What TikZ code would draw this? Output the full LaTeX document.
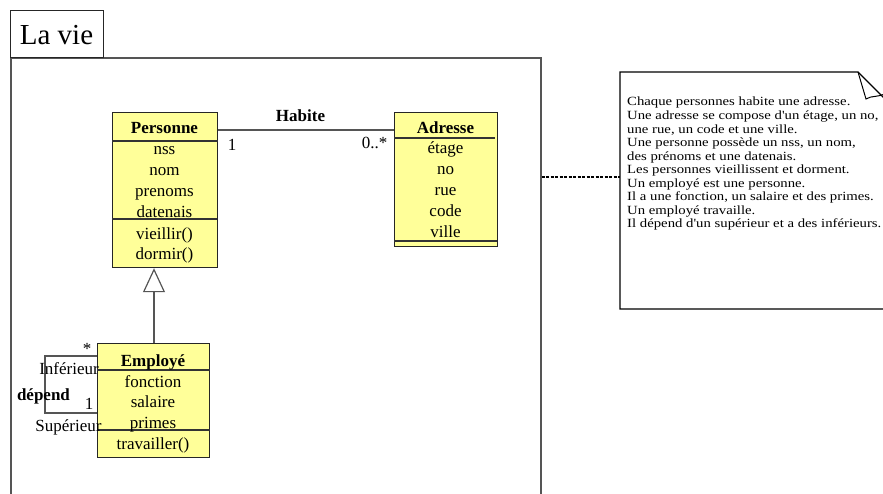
\documentclass[tikz,border=0pt]{standalone}
\usepackage{fontspec}
\setmainfont{Liberation Serif}
\newfontfamily\notefont[FakeStretch=1.18]{Liberation Serif}
\usetikzlibrary{arrows.meta}
\definecolor{umlyellow}{RGB}{255,255,153}
\definecolor{framegray}{RGB}{85,85,85}
\newcommand\clsfont{\fontsize{17}{20.7}\selectfont}
\begin{document}
\begin{tikzpicture}[x=1pt,y=-1pt,
  framebox/.style={draw=framegray, line width=1.6pt, inner sep=0pt},
  classbox/.style={draw=black!85, fill=umlyellow, line width=1.2pt, inner sep=0pt},
  sepline/.style={draw=black!80, line width=1.1pt},
  member/.style={font=\clsfont, inner sep=0pt, anchor=base},
  clsname/.style={font=\clsfont\bfseries, inner sep=0pt, anchor=base},
  assoc/.style={draw=framegray, line width=1.2pt},
  rolelabel/.style={font=\clsfont, inner sep=0pt, anchor=base},
]
\useasboundingbox (0,0) rectangle (883,494);
\clip (0,0) rectangle (883,494);

% package frame and its tab
\node[framebox, anchor=north west, minimum width=530pt, minimum height=500pt] (frame) at (10,57) {};
\node[draw=black!85, line width=1.1pt, anchor=north west, minimum width=93pt, minimum height=47pt, inner sep=0pt] (tab) at (10,10) {};
\node[font=\fontsize{29}{30}\selectfont, anchor=base, inner sep=0pt] (tabtext) at (56.5,45) {La vie};

% class Personne
\node[classbox, anchor=north west, minimum width=105pt, minimum height=155pt] (personne) at (112,112) {};
\draw[sepline] (112,141) -- (218,141);
\draw[sepline] (112,219) -- (217,219);
\node[clsname] (pname) at (164.5,133.5) {Personne};
\node[member] (pa1) at (164.5,155) {nss};
\node[member] (pa2) at (164.5,175.7) {nom};
\node[member] (pa3) at (164.5,196.4) {prenoms};
\node[member] (pa4) at (164.5,217.1) {datenais};
\node[member] (po1) at (164.5,239.5) {vieillir()};
\node[member] (po2) at (164.5,260) {dormir()};

% class Adresse
\node[classbox, anchor=north west, minimum width=103pt, minimum height=134pt] (adresse) at (394,112) {};
\draw[sepline] (394,138) -- (495,138);
\draw[sepline] (394,241) -- (497,241);
\node[clsname] (aname) at (445.5,133.3) {Adresse};
\node[member] (aa1) at (445.5,154) {étage};
\node[member] (aa2) at (445.5,175) {no};
\node[member] (aa3) at (445.5,195.7) {rue};
\node[member] (aa4) at (445.5,216.5) {code};
\node[member] (aa5) at (445.5,237.3) {ville};

% class Employé
\node[classbox, anchor=north west, minimum width=112pt, minimum height=114pt] (employe) at (97,343) {};
\draw[sepline] (97,370) -- (210,370);
\draw[sepline] (97,430) -- (210,430);
\node[clsname] (ename) at (153,366) {Employé};
\node[member] (ea1) at (153,387) {fonction};
\node[member] (ea2) at (153,407.4) {salaire};
\node[member] (ea3) at (153,428) {primes};
\node[member] (eo1) at (153,449) {travailler()};

% association Habite
\coordinate (habY) at (300,130);
\draw[assoc] (personne.east |- habY) -- (adresse.west |- habY);
\node[font=\clsfont\bfseries, inner sep=0pt, anchor=base] (habite) at (300.5,121.7) {Habite};
\node[rolelabel] (m1) at (232,151) {1};
\node[rolelabel] (m2) at (374.5,149) {0..*};

% generalisation Employé -> Personne
\coordinate (genX) at (154,300);
\draw[assoc, -{Triangle[open, length=24pt, width=22pt]}]
  (employe.north -| genX) -- (personne.south -| genX);

% reflexive association dépend
\coordinate (infY) at (60,356);
\coordinate (supY) at (60,413);
\coordinate (loopX) at (45,380);
\draw[assoc] (employe.west |- infY) -- (loopX |- infY) -- (loopX |- supY) -- (employe.west |- supY);
\node[rolelabel] (star) at (87,354) {*};
\node[rolelabel] (inf) at (69,374) {Inférieur};
\node[font=\clsfont\bfseries, inner sep=0pt, anchor=base] (depend) at (43.5,400.7) {dépend};
\node[rolelabel] (one) at (89,409.3) {1};
\node[rolelabel] (sup) at (68.5,431.7) {Supérieur};

% note with folded corner
\coordinate (noteW) at (620,177);
\draw[black, line width=1.1pt, line join=miter]
  (900,309) -- (620,309) -- (620,72) -- (858,72) -- (900,114);
\draw[black, line width=1pt]
  (858,72) -- (866,99) .. controls (872,95) and (878,98) .. (886,93);
\node[anchor=base west, inner sep=0pt] (notetext) at (627,106)
  {\parbox[t]{300pt}{\notefont\fontsize{12.5}{13.53}\selectfont\raggedright
   Chaque personnes habite une adresse.\\
   Une adresse se compose d'un étage, un no,\\
   une rue, un code et une ville.\\
   Une personne possède un nss, un nom,\\
   des prénoms et une datenais.\\
   Les personnes vieillissent et dorment.\\
   Un employé est une personne.\\
   Il a une fonction, un salaire et des primes.\\
   Un employé travaille.\\
   Il dépend d'un supérieur et a des inférieurs.}};

% note attachment
\draw[black, line width=1.1pt, dash pattern=on 3pt off 1.5pt] (frame.east |- noteW) -- (noteW);
\end{tikzpicture}
\end{document}
